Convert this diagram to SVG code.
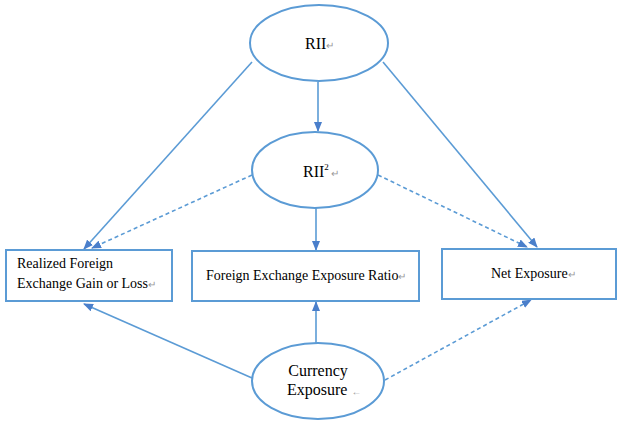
<svg xmlns="http://www.w3.org/2000/svg" width="617" height="421" viewBox="0 0 617 421">
<defs>
<marker id="ah" markerWidth="10" markerHeight="8" refX="9" refY="4" orient="auto" markerUnits="userSpaceOnUse">
<path d="M0,0 L10,4 L0,8 Z" fill="#4a7fcb"/>
</marker>
<style>
.shape{fill:#fff;stroke:#5b9bd5;stroke-width:2}
.ln{stroke:#5b9bd5;stroke-width:1.6;fill:none}
.dash{stroke-dasharray:4 3}
text{font-family:"Liberation Serif","Times New Roman",serif;font-size:14px;fill:#000}
.big{font-size:16px}
.rt{fill:#999;font-size:10px}
</style>
</defs>
<rect width="617" height="421" fill="#fff"/>
<g id="connectors">
<line class="ln" x1="252" y1="62" x2="84" y2="249" marker-end="url(#ah)"/>
<line class="ln" x1="318" y1="82" x2="318" y2="131" marker-end="url(#ah)"/>
<line class="ln" x1="383" y1="62" x2="537" y2="247" marker-end="url(#ah)"/>
<line class="ln dash" x1="252" y1="175" x2="92" y2="248" marker-end="url(#ah)"/>
<line class="ln dash" x1="378" y1="175" x2="527" y2="247" marker-end="url(#ah)"/>
<line class="ln" x1="316" y1="208" x2="316" y2="250" marker-end="url(#ah)"/>
<line class="ln" x1="252" y1="378" x2="84" y2="304" marker-end="url(#ah)"/>
<line class="ln" x1="316" y1="343" x2="316" y2="302" marker-end="url(#ah)"/>
<line class="ln dash" x1="385" y1="380" x2="531" y2="300" marker-end="url(#ah)"/>
</g>
<g id="rii">
<ellipse class="shape" cx="319" cy="43" rx="69" ry="38"/>
<text class="big" x="305" y="49">RII<tspan class="rt">↵</tspan></text>
</g>
<g id="rii2">
<ellipse class="shape" cx="315" cy="170" rx="63" ry="38"/>
<text class="big" x="303" y="177">RII<tspan font-size="9" dy="-7">2</tspan><tspan class="rt" dy="7"> ↵</tspan></text>
</g>
<g id="realized">
<rect class="shape" x="6" y="250" width="166" height="51"/>
<text x="17" y="268">Realized Foreign</text>
<text x="17" y="288">Exchange Gain or Loss<tspan class="rt">↵</tspan></text>
</g>
<g id="ratio">
<rect class="shape" x="192" y="251" width="227" height="50"/>
<text x="206" y="280">Foreign Exchange Exposure Ratio<tspan class="rt">↵</tspan></text>
</g>
<g id="net">
<rect class="shape" x="442" y="249" width="174" height="50"/>
<text x="491" y="278">Net Exposure<tspan class="rt">↵</tspan></text>
</g>
<g id="currency">
<ellipse class="shape" cx="318" cy="381" rx="66" ry="38"/>
<text class="big" x="318" y="376" text-anchor="middle">Currency</text>
<text class="big" x="287" y="395">Exposure <tspan class="rt">←</tspan></text>
</g>
</svg>
